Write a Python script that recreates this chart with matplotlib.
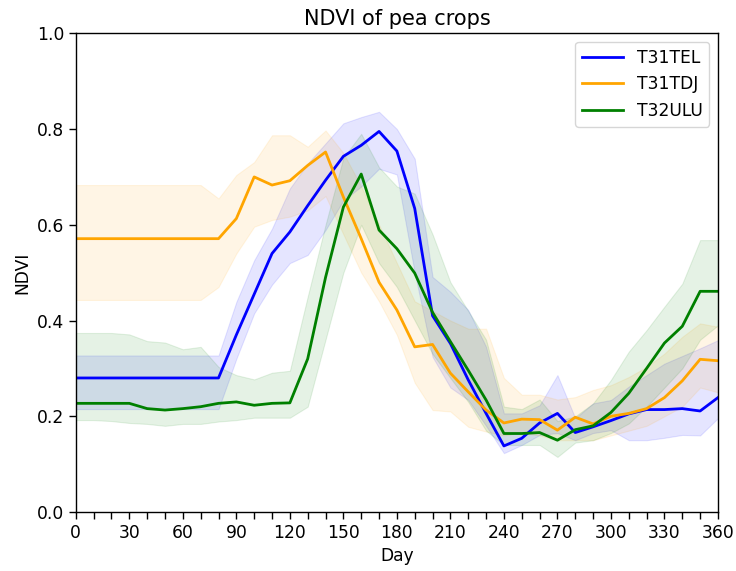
import numpy as np
import matplotlib
matplotlib.use('Agg')
import matplotlib.pyplot as plt
from matplotlib.ticker import MultipleLocator, FormatStrFormatter

# days of year, one sample every 10 days
days = np.arange(0, 361, 10)

# T31TEL (blue)
tel_mean = [0.28, 0.28, 0.28, 0.28, 0.28, 0.28, 0.28, 0.28, 0.28, 0.37,
            0.455, 0.54, 0.585, 0.64, 0.693, 0.743, 0.766, 0.795, 0.754, 0.634,
            0.41, 0.352, 0.276, 0.206, 0.138, 0.154, 0.186, 0.206, 0.166, 0.178,
            0.191, 0.205, 0.214, 0.214, 0.216, 0.211, 0.239]
tel_low = [0.215, 0.215, 0.215, 0.215, 0.215, 0.215, 0.215, 0.215, 0.215, 0.32,
           0.415, 0.475, 0.52, 0.537, 0.589, 0.651, 0.68, 0.717, 0.705, 0.5,
           0.324, 0.26, 0.234, 0.18, 0.123, 0.14, 0.161, 0.165, 0.15, 0.165,
           0.171, 0.15, 0.15, 0.155, 0.161, 0.16, 0.196]
tel_up = [0.327, 0.327, 0.327, 0.327, 0.327, 0.327, 0.327, 0.327, 0.327, 0.439,
          0.526, 0.592, 0.676, 0.728, 0.77, 0.812, 0.825, 0.836, 0.80, 0.738,
          0.491, 0.46, 0.422, 0.345, 0.206, 0.206, 0.223, 0.286, 0.196, 0.227,
          0.234, 0.262, 0.286, 0.31, 0.326, 0.342, 0.359]

# T31TDJ (orange)
tdj_mean = [0.571, 0.571, 0.571, 0.571, 0.571, 0.571, 0.571, 0.571, 0.571, 0.613,
            0.70, 0.683, 0.692, 0.724, 0.752, 0.658, 0.571, 0.48, 0.422, 0.345,
            0.35, 0.29, 0.251, 0.213, 0.186, 0.194, 0.193, 0.171, 0.198, 0.184,
            0.20, 0.206, 0.216, 0.239, 0.274, 0.319, 0.316]
tdj_low = [0.443, 0.443, 0.443, 0.443, 0.443, 0.443, 0.443, 0.443, 0.47, 0.54,
           0.596, 0.61, 0.617, 0.63, 0.66, 0.58, 0.50, 0.44, 0.37, 0.27,
           0.213, 0.21, 0.178, 0.168, 0.16, 0.165, 0.16, 0.15, 0.15, 0.15,
           0.16, 0.17, 0.18, 0.20, 0.22, 0.26, 0.25]
tdj_up = [0.683, 0.683, 0.683, 0.683, 0.683, 0.683, 0.683, 0.683, 0.655, 0.704,
          0.731, 0.787, 0.787, 0.763, 0.797, 0.75, 0.68, 0.60, 0.52, 0.44,
          0.42, 0.40, 0.383, 0.383, 0.28, 0.245, 0.245, 0.235, 0.24, 0.255,
          0.265, 0.282, 0.303, 0.331, 0.366, 0.394, 0.387]

# T32ULU (green)
ulu_mean = [0.227, 0.227, 0.227, 0.227, 0.216, 0.213, 0.216, 0.22, 0.227, 0.23,
            0.223, 0.227, 0.228, 0.32, 0.49, 0.637, 0.706, 0.589, 0.55, 0.499,
            0.417, 0.356, 0.296, 0.234, 0.164, 0.164, 0.166, 0.15, 0.172, 0.18,
            0.208, 0.248, 0.30, 0.353, 0.388, 0.461, 0.461]
ulu_low = [0.192, 0.192, 0.19, 0.186, 0.184, 0.18, 0.184, 0.184, 0.189, 0.192,
           0.197, 0.197, 0.197, 0.22, 0.36, 0.50, 0.60, 0.52, 0.47, 0.40,
           0.33, 0.28, 0.23, 0.17, 0.14, 0.14, 0.14, 0.115, 0.145, 0.15,
           0.165, 0.185, 0.22, 0.26, 0.30, 0.36, 0.39]
ulu_up = [0.374, 0.374, 0.374, 0.371, 0.357, 0.354, 0.34, 0.345, 0.303, 0.286,
          0.277, 0.291, 0.295, 0.45, 0.60, 0.74, 0.79, 0.72, 0.68, 0.665,
          0.58, 0.48, 0.42, 0.36, 0.22, 0.215, 0.235, 0.19, 0.20, 0.227,
          0.276, 0.335, 0.38, 0.429, 0.477, 0.568, 0.568]

series = [
    ('T31TEL', 'blue', tel_mean, tel_low, tel_up),
    ('T31TDJ', 'orange', tdj_mean, tdj_low, tdj_up),
    ('T32ULU', 'green', ulu_mean, ulu_low, ulu_up),
]

fs = 12.3
fig = plt.figure(figsize=(7.36, 5.71), dpi=100)
ax = fig.add_axes([0.103, 0.1033, 0.8725, 0.8384])

for name, col, m, lo, up in series:
    ax.fill_between(days, lo, up, color=col, alpha=0.1, linewidth=0.8)
    ax.plot(days, m, color=col, linewidth=2.0, label=name)

ax.set_xlim(0, 360)
ax.set_ylim(0, 1.0)
ax.xaxis.set_major_locator(MultipleLocator(30))
ax.xaxis.set_minor_locator(MultipleLocator(10))
ax.yaxis.set_major_locator(MultipleLocator(0.2))
ax.yaxis.set_major_formatter(FormatStrFormatter('%.1f'))
ax.tick_params(which='both', length=5, width=1.0, labelsize=fs)
for s in ax.spines.values():
    s.set_linewidth(1.0)

ax.set_title('NDVI of pea crops', fontsize=15)
ax.set_xlabel('Day', fontsize=fs)
ax.set_ylabel('NDVI', fontsize=fs)
ax.legend(loc='upper right', fontsize=fs, handlelength=2.4)

fig.savefig('out.png', dpi=100)
